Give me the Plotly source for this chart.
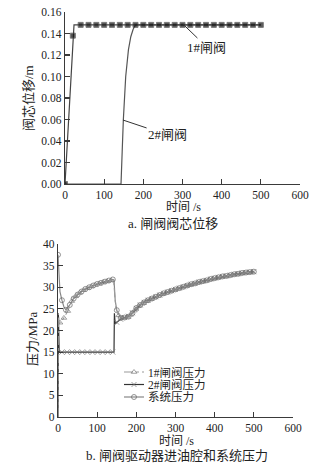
import plotly.graph_objects as go

# ---------- panel a: valve spool displacement ----------
v1_t = [0, 20, 23, 40, 60, 80, 100, 120, 140, 160, 180, 200, 220, 240, 260, 280, 300,
        320, 340, 360, 380, 400, 420, 440, 460, 480, 500]
v1_y = [0.0, 0.138, 0.148] + [0.148] * 24

v2_t = [0, 143, 146, 149, 155, 162, 168, 174, 180, 500]
v2_y = [0.0, 0.0, 0.03, 0.06, 0.10, 0.125, 0.137, 0.144, 0.148, 0.148]

# ---------- panel b: pressures ----------
sys_t = [0, 2, 5, 10, 15, 20, 30, 40, 50, 60, 70, 80, 90, 100, 110, 120, 130, 140,
         143, 146, 150, 160, 170, 180, 190, 200, 210, 220, 230, 240, 250, 260, 270,
         280, 290, 300, 310, 320, 330, 340, 350, 360, 370, 380, 390, 400, 410, 420,
         430, 440, 450, 460, 470, 480, 490, 500]
sys_p = [37.5, 33.0, 29.0, 27.0, 25.5, 24.8, 25.9, 27.4, 28.3, 29.0, 29.6, 30.0, 30.4,
         30.75, 31.0, 31.3, 31.55, 31.8, 31.7, 27.0, 24.7, 22.9, 23.0, 23.2, 24.0, 25.2,
         25.9, 26.5, 27.0, 27.4, 27.8, 28.2, 28.6, 28.9, 29.2, 29.5, 29.8, 30.1, 30.4,
         30.7, 30.9, 31.2, 31.4, 31.6, 31.9, 32.1, 32.3, 32.5, 32.6, 32.8, 33.0, 33.1,
         33.3, 33.4, 33.5, 33.6]

p1_t = [0, 1, 3, 5, 15, 25, 35, 45, 55, 65, 75, 85, 95, 105, 115, 125, 135, 142, 145,
        148, 155, 165, 175, 185, 195, 205, 215, 225, 235, 245, 255, 265, 275, 285, 295,
        305, 315, 325, 335, 345, 355, 365, 375, 385, 395, 405, 415, 425, 435, 445, 455,
        465, 475, 485, 495, 500]
p1_p = [0.0, 24.0, 21.5, 21.8, 22.9, 24.5, 26.8, 27.9, 28.7, 29.3, 29.8, 30.2, 30.6,
        30.9, 31.2, 31.4, 31.6, 31.8, 28.0, 25.0, 23.5, 22.9, 23.1, 23.6, 24.6, 25.6,
        26.2, 26.8, 27.2, 27.6, 28.0, 28.4, 28.7, 29.05, 29.35, 29.65, 29.95, 30.25,
        30.55, 30.8, 31.05, 31.3, 31.5, 31.75, 32.0, 32.2, 32.4, 32.55, 32.7, 32.9,
        33.05, 33.2, 33.35, 33.45, 33.55, 33.6]

p2_t = [0, 1, 3, 10, 23, 36, 49, 62, 75, 88, 101, 114, 127, 140, 143, 144, 146, 150,
        160, 170, 180, 190, 200, 210, 220, 230, 240, 250, 260, 270, 280, 290, 300, 310,
        320, 330, 340, 350, 360, 370, 380, 390, 400, 410, 420, 430, 440, 450, 460, 470,
        480, 490, 500]
p2_p = [0.0, 24.0, 15.0, 15.0, 15.0, 15.0, 15.0, 15.0, 15.0, 15.0, 15.0, 15.0, 15.0,
        15.0, 15.0, 24.0, 21.5, 21.9, 22.6, 23.0, 23.3, 24.1, 25.1, 25.9, 26.5, 27.0,
        27.4, 27.8, 28.2, 28.6, 28.9, 29.2, 29.5, 29.8, 30.1, 30.4, 30.7, 30.9, 31.2,
        31.4, 31.6, 31.9, 32.1, 32.3, 32.5, 32.6, 32.8, 33.0, 33.1, 33.3, 33.4, 33.5, 33.6]

legend_names = ["1#闸阀压力", "2#闸阀压力", "系统压力"]

SERIF = "Liberation Serif, Noto Sans CJK SC, serif"
AXC = "#3a3a3a"

# body margin is removed by post_script, so figure pixels == window pixels
W, H = 329, 464
def px(x):
    return x / W
def py(y):
    return 1 - y / H

st1 = dict(line=dict(color="#9a9a9a", width=1.1, dash="dashdot"),
           marker=dict(symbol="triangle-up-open", color="#7a7a7a", line=dict(width=1)))
st2 = dict(line=dict(color="#333333", width=1.2),
           marker=dict(symbol="x-thin", color="#777777", line=dict(color="#777777", width=1)))
st3 = dict(line=dict(color="#888888", width=1.2),
           marker=dict(symbol="circle-open", color="#666666", line=dict(width=1)))

fig = go.Figure()

# panel a traces
fig.add_trace(go.Scatter(
    x=v2_t, y=v2_y, mode="lines", xaxis="x", yaxis="y", showlegend=False,
    line=dict(color="#555555", width=1.2)))
fig.add_trace(go.Scatter(
    x=v1_t, y=v1_y, mode="lines+markers", xaxis="x", yaxis="y", showlegend=False,
    line=dict(color="#444444", width=1.2),
    marker=dict(symbol="square", color="#111111",
                size=[0 if t == 23 else 5 for t in v1_t])))

# panel b traces
fig.add_trace(go.Scatter(
    x=p2_t, y=p2_p, mode="lines+markers", xaxis="x2", yaxis="y2", showlegend=False,
    line=st2["line"],
    marker=dict(st2["marker"],
                size=[5 if (t >= 10 and t not in (143, 144, 146)) else 0 for t in p2_t])))
fig.add_trace(go.Scatter(
    x=sys_t, y=sys_p, mode="lines+markers", xaxis="x2", yaxis="y2", showlegend=False,
    line=st3["line"],
    marker=dict(st3["marker"], size=[5 if t % 10 == 0 else 0 for t in sys_t])))
fig.add_trace(go.Scatter(
    x=p1_t, y=p1_p, mode="lines+markers", xaxis="x2", yaxis="y2", showlegend=False,
    line=st1["line"],
    marker=dict(st1["marker"], size=[5 if (t % 10 == 5 and t != 145) else 0 for t in p1_t])))

# compact legend drawn on an overlay axis in pixel units
leg_rows = [372, 384.5, 397]
for name, st, ry in zip(legend_names, [st1, st2, st3], leg_rows):
    fig.add_trace(go.Scatter(
        x=[124, 134, 144], y=[ry, ry, ry], mode="lines+markers", xaxis="x3", yaxis="y3",
        showlegend=False, hoverinfo="skip", line=st["line"],
        marker=dict(st["marker"], size=[0, 5, 0])))

axis_common = dict(showline=True, linecolor=AXC, linewidth=1.3, ticks="inside",
                   ticklen=5, tickcolor=AXC, tickwidth=1.2, showgrid=False,
                   zeroline=False, mirror=False, automargin=False,
                   ticklabeloverflow="allow",
                   tickfont=dict(family=SERIF, size=11.5, color="#222222"))

fig.update_layout(
    width=W, height=H, margin=dict(l=0, r=0, t=0, b=0),
    paper_bgcolor="white", plot_bgcolor="rgba(0,0,0,0)",
    font=dict(family=SERIF, color="#222222"),
    showlegend=False,
    xaxis=dict(domain=[px(65), px(300)], range=[0, 600], dtick=100, anchor="y",
               **axis_common),
    yaxis=dict(domain=[py(184), py(12)], range=[0, 0.16], dtick=0.02, tickformat=".2f",
               anchor="x", **axis_common),
    xaxis2=dict(domain=[px(58), px(293)], range=[0, 600], dtick=100, anchor="y2",
                **axis_common),
    yaxis2=dict(domain=[py(417), py(244)], range=[0, 40], dtick=5, anchor="x2",
                **axis_common),
    xaxis3=dict(domain=[0, 1], range=[0, W], visible=False, anchor="y3",
                fixedrange=True),
    yaxis3=dict(domain=[0, 1], range=[H, 0], visible=False, anchor="x3",
                fixedrange=True),
)

def label(text, x, y, size, angle=0):
    return dict(text=text, x=px(x), y=py(y), xref="paper", yref="paper",
                xanchor="center", yanchor="middle", showarrow=False, borderpad=0,
                textangle=angle, font=dict(size=size, family=SERIF))

anns = [
    label("时间 /s", 183, 207, 12),
    label("a. 闸阀阀芯位移", 173, 223, 13),
    label("阀芯位移/m", 28, 98, 13, -90),
    label("时间 /s", 176, 441, 12),
    label("b. 闸阀驱动器进油腔和系统压力", 177, 455, 13),
    label("压力/MPa", 32, 339, 13, -90),
    dict(text="1#闸阀", x=301, y=0.1488, ax=362, ay=0.1274, xref="x", yref="y",
         axref="x", ayref="y", showarrow=True, arrowhead=0, arrowwidth=1,
         arrowcolor="#333333", font=dict(size=13, family=SERIF)),
    dict(text="2#闸阀", x=148, y=0.0595, ax=262, ay=0.0456, xref="x", yref="y",
         axref="x", ayref="y", showarrow=True, arrowhead=0, arrowwidth=1,
         arrowcolor="#333333", font=dict(size=13, family=SERIF)),
]
for name, ry in zip(legend_names, leg_rows):
    anns.append(dict(text=name, x=147, y=ry, xref="x3", yref="y3", xanchor="left",
                     yanchor="middle", showarrow=False, borderpad=0,
                     font=dict(size=11.5, family=SERIF)))
fig.update_layout(annotations=anns)

fig.write_html("out.html",
               config={"displayModeBar": False, "staticPlot": True},
               post_script="document.body.style.margin='0';document.body.style.overflow='hidden';")
